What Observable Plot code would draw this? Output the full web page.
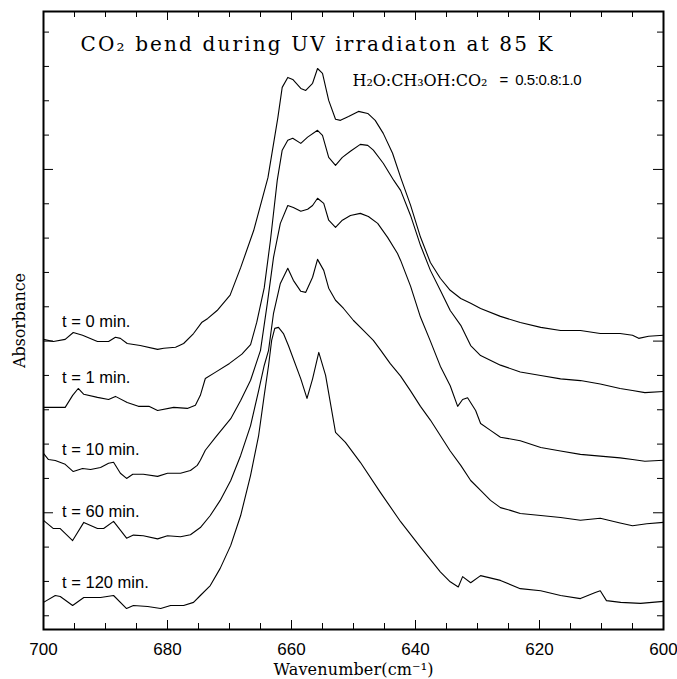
<!DOCTYPE html>
<html><head><meta charset="utf-8">
<script src="https://cdn.jsdelivr.net/npm/d3@7"></script>
<script src="https://cdn.jsdelivr.net/npm/@observablehq/plot@0.6"></script>
<style>body{margin:0;background:#fff}</style>
</head><body><div id="chart"></div>
<script>
// wavenumber (cm-1), absorbance (arbitrary, offset-stacked units)
const t0 = [[700,8.05],[698.4,7.99],[696.5,8.05],[695.2,8.25],[693.7,8.17],[691.3,7.99],[689.5,7.99],[688.4,8.11],[687.6,8.08],[686.5,7.93],[684.4,7.87],[681.6,7.76],[680.6,7.79],[678.7,7.82],[677.4,7.93],[675.8,8.22],[674.5,8.54],[673.5,8.66],[672,8.89],[669.9,9.34],[668.2,10.14],[666.1,11.22],[663.8,12.76],[662.2,14.51],[661.5,15.39],[660.6,15.68],[659.8,15.62],[658.5,15.36],[657.7,15.30],[656.6,15.51],[655.8,15.94],[655,15.80],[654,15.01],[652.9,14.46],[652.1,14.43],[650.8,14.54],[649.2,14.69],[647.7,14.63],[646.5,14.43],[645.2,14.05],[643.7,13.47],[642.4,12.77],[640.8,11.96],[639.2,11.03],[637.6,10.29],[636,9.83],[634.4,9.48],[632.7,9.24],[631.1,9.10],[629.5,8.95],[626.3,8.72],[623.1,8.54],[619.8,8.40],[616.6,8.31],[613.4,8.31],[610.2,8.22],[607,8.22],[605,8.17],[604,8.08],[602.4,8.14],[600,8.17]];
const t1 = [[700,6.07],[698.9,6.07],[696.5,6.07],[695.3,6.42],[694.4,6.62],[693.5,6.45],[691.3,6.36],[689.5,6.30],[688.4,6.39],[686.5,6.21],[684.7,6.10],[683,6.10],[681.6,5.98],[679,6.07],[676.8,6.04],[675.5,6.13],[674.7,6.42],[673.9,6.91],[672.3,7.09],[670,7.35],[668,7.62],[666.6,7.9],[665.6,8.55],[664.4,9.55],[663.4,10.93],[662.3,12.68],[661.5,13.56],[660.6,13.85],[659.8,13.91],[658.5,13.76],[657.4,13.94],[655.8,14.14],[655,13.99],[654,13.35],[652.9,13.12],[651.8,13.35],[650.5,13.53],[648.9,13.73],[647.7,13.70],[646.8,13.56],[645.2,13.18],[643.5,12.68],[642.4,12.39],[640.8,11.66],[639.2,10.79],[637.6,10.06],[636,9.48],[634.4,8.89],[632.7,8.46],[631.1,7.87],[629.5,7.58],[626.3,7.3],[623.1,7.1],[619.8,7.0],[616.6,6.9],[613.4,6.85],[610.2,6.75],[607,6.62],[605,6.56],[603,6.5],[600,6.53]];
const t10 = [[700,4.73],[699.2,4.55],[698.1,4.52],[696.5,4.41],[695.2,4.20],[693.7,4.29],[692.4,4.26],[690.8,4.32],[689.5,4.44],[688.7,4.47],[687.6,4.15],[686.6,4.00],[685.6,4.12],[683.9,4.12],[681.6,4.06],[680,4.15],[677.9,4.15],[676.3,4.23],[675.2,4.38],[674.7,4.53],[673.9,4.82],[672.3,5.19],[669.8,5.74],[668.2,6.27],[666.6,6.86],[665,7.73],[663.9,9.10],[662.9,10.44],[661.8,11.43],[660.6,11.95],[659.7,11.89],[658.5,11.78],[657.4,11.84],[656.6,11.95],[655.8,12.16],[654.8,12.01],[654,11.52],[652.9,11.31],[651.8,11.52],[650.5,11.66],[648.9,11.72],[647.6,11.63],[646.1,11.43],[644.5,11.02],[642.9,10.55],[642.4,10.35],[640.8,9.6],[639.2,8.7],[637.6,8.0],[636,7.27],[634.4,6.7],[633.2,6.1],[632.4,6.3],[631.6,6.35],[630.3,5.98],[629.5,5.6],[627.9,5.4],[626.3,5.2],[623.1,5.1],[619.8,4.9],[616.6,4.8],[613.4,4.7],[610.2,4.65],[607,4.6],[605,4.55],[603,4.50],[600,4.53]];
const t60 = [[700,2.78],[698.4,2.54],[697.3,2.54],[695.3,2.19],[693.5,2.72],[691.3,2.54],[690.3,2.54],[688.7,2.75],[686.6,2.26],[685.5,2.35],[683.9,2.33],[681.6,2.24],[680,2.33],[677.9,2.30],[676.3,2.36],[674.7,2.57],[673.1,2.92],[671.5,3.36],[669.8,3.94],[668.2,4.67],[666.6,5.54],[665.3,6.56],[664.4,7.29],[663.7,7.73],[662.9,8.81],[661.8,9.68],[660.6,10.12],[659.7,9.77],[658.5,9.45],[657.7,9.42],[656.6,9.86],[655.8,10.38],[654.8,10.06],[654,9.54],[652.9,9.19],[651.6,8.95],[650,8.60],[648.4,8.31],[646.8,8.02],[645.6,7.73],[644.1,7.35],[642.4,6.98],[640.8,6.55],[639.2,6.1],[637.6,5.7],[636,5.25],[634.4,4.8],[632.7,4.38],[631.1,3.94],[629.5,3.65],[627.9,3.36],[626.3,3.15],[624.7,3.07],[623.1,2.98],[619.8,2.92],[616.6,2.86],[613.4,2.78],[610.2,2.84],[607,2.70],[605,2.62],[602.7,2.68],[600,2.72]];
const t120 = [[700,0.39],[698.1,0.59],[697.3,0.56],[695.3,0.30],[693.5,0.53],[690.8,0.53],[688.7,0.59],[686.6,0.21],[685.5,0.30],[683.2,0.27],[681.1,0.21],[679.5,0.30],[677.4,0.30],[675.8,0.39],[674.7,0.59],[673.1,0.88],[671.5,1.38],[669.8,2.05],[668.2,2.92],[666.6,4.09],[665.3,5.25],[664.4,6.42],[663.7,7.29],[663.2,8.02],[662.7,8.37],[662.1,8.40],[661.3,8.22],[660.5,7.87],[658.5,6.9],[657.5,6.33],[656.6,6.9],[655.6,7.67],[654.5,7.0],[652.9,5.34],[651.3,5.05],[648.9,4.47],[645.7,3.6],[642.4,2.74],[639.2,2.0],[636,1.28],[634.4,0.99],[633.1,0.84],[632.4,1.14],[631.1,0.96],[629.5,1.17],[626.3,1.03],[623.1,0.79],[619.8,0.73],[616.6,0.59],[613.4,0.50],[611,0.68],[610.2,0.73],[609.2,0.44],[606.9,0.39],[603.7,0.36],[600,0.42]];

const seriesNames = ["t = 0 min.", "t = 1 min.", "t = 10 min.", "t = 60 min.", "t = 120 min."];
const seriesData = [t0, t1, t10, t60, t120];
const labelY = [8.57, 6.94, 4.84, 3.04, 0.97];
const xTickLabels = [700, 680, 660, 640, 620, 600];
const xMinorTicks = d3.range(600, 701, 5);
const yMinorTicks = d3.range(0, 18, 1);
const yMajorTicks = [3, 8, 13];
const titleText = "CO₂ bend during UV irradiaton at 85 K";
const mixText = "H₂O:CH₃OH:CO₂";
const ratioText = "=  0.5:0.8:1.0";
const xLabel = "Wavenumber(cm⁻¹)";
const yLabel = "Absorbance";

const X0 = 700, X1 = 600, Y0 = -0.4, Y1 = 17.6;
const pxX = 620 / 100, pxY = 618 / 18;

const lines = seriesData.map(d => Plot.line(d, {x: d => d[0], y: d => d[1], stroke: "black", strokeWidth: 1.1}));
const labels = seriesNames.map((n, i) => ({n, y: labelY[i]}));

const chart = Plot.plot({
  width: 677, height: 679,
  marginLeft: 43, marginRight: 14, marginTop: 11, marginBottom: 50,
  x: {domain: [X0, X1]},
  y: {domain: [Y0, Y1], axis: null},
  style: {background: "white", color: "black"},
  marks: [
    ...lines,
    Plot.ruleX(xMinorTicks, {x: d => d, y1: Y0, y2: d => Y0 + (d % 20 === 0 ? 9 : 6) / pxY, stroke: "black", strokeWidth: 1}),
    Plot.ruleX(xMinorTicks, {x: d => d, y1: Y1, y2: d => Y1 - (d % 20 === 0 ? 9 : 6) / pxY, stroke: "black", strokeWidth: 1}),
    Plot.ruleY(yMinorTicks, {y: d => d, x1: X0, x2: d => X0 - (yMajorTicks.includes(d) ? 10 : 6) / pxX, stroke: "black", strokeWidth: 1}),
    Plot.ruleY(yMinorTicks, {y: d => d, x1: X1, x2: d => X1 + (yMajorTicks.includes(d) ? 10 : 6) / pxX, stroke: "black", strokeWidth: 1}),
    Plot.frame({stroke: "black", strokeWidth: 2}),
    Plot.axisX(xTickLabels, {anchor: "bottom", tickSize: 0, tickPadding: 13, fontSize: 17, fontFamily: "Liberation Sans", label: null}),
    Plot.text(labels, {x: 697, y: "y", text: "n", textAnchor: "start", fontSize: 16.5, fontFamily: "Liberation Sans"}),
    Plot.text([titleText], {frameAnchor: "top-left", dx: 37, dy: 25, lineAnchor: "top", textAnchor: "start", fontSize: 20, fontFamily: "DejaVu Serif"}),
    Plot.text([mixText], {frameAnchor: "top-left", dx: 309, dy: 63, lineAnchor: "top", textAnchor: "start", fontSize: 16, fontFamily: "DejaVu Serif"}),
    Plot.text([ratioText], {frameAnchor: "top-left", dx: 456, dy: 63, lineAnchor: "top", textAnchor: "start", fontSize: 15, fontFamily: "Liberation Sans"}),
    Plot.text([xLabel], {frameAnchor: "bottom", dy: 45, lineAnchor: "bottom", fontSize: 16, fontFamily: "DejaVu Serif"}),
    Plot.text([yLabel], {frameAnchor: "left", dx: -24, dy: 0, rotate: -90, textAnchor: "middle", fontSize: 16, fontFamily: "DejaVu Serif"})
  ]
});
// stretch the serif texts to the reference's wider letter spacing
const stretch = {[titleText]: 472, [mixText]: 135, [ratioText]: 82, [xLabel]: 160, [yLabel]: 95};
chart.querySelectorAll("text").forEach(t => {
  const w = stretch[t.textContent];
  if (w) { t.setAttribute("textLength", w); t.setAttribute("lengthAdjust", "spacing"); }
});
document.getElementById("chart").appendChild(chart);
</script>
</body></html>
